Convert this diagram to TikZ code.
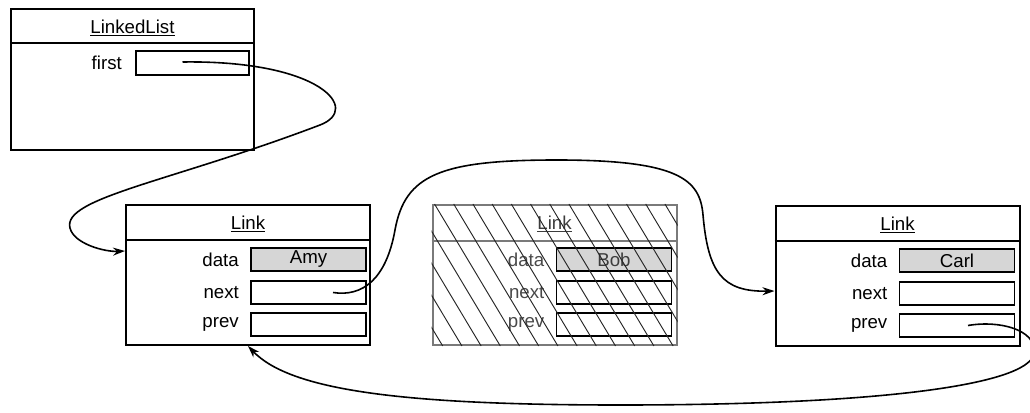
\documentclass[tikz,border=0pt]{standalone}
\usepackage{fontspec}
\setmainfont{Liberation Sans}
\usetikzlibrary{arrows.meta,calc}
\definecolor{fieldgray}{HTML}{D6D6D6}
\definecolor{ghost}{HTML}{7A7A7A}
\begin{document}
\begin{tikzpicture}[x=0.75pt,y=-0.75pt,
  every node/.style={font=\fontsize{14}{16}\selectfont},
  objbox/.style={draw, line width=1.5pt, minimum width=183pt, minimum height=105pt, inner sep=0pt},
  fieldbox/.style={draw, line width=1.4pt, minimum width=86.25pt, minimum height=17.25pt, inner sep=0pt},
  datafield/.style={fieldbox, fill=fieldgray},
  lbl/.style={anchor=east, inner sep=0pt},
  ttl/.style={inner sep=0pt},
  sepline/.style={line width=1.5pt},
  ptr/.style={line width=1.2pt, -{Stealth[length=9pt,width=6pt]}},
]
\clip (0,0) rectangle (1030,413);
\fill[white] (0,0) rectangle (1030,413);

% LinkedList object
\node[objbox, minimum width=182.25pt, minimum height=105.75pt] (ll) at (132.5,79.5) {};
\draw[sepline] ($(ll.north west)+(0,35)$) -- ($(ll.north east)+(0,35)$);
\node[ttl] (lltitle) at (132.5,28) {\underline{LinkedList}};
\node[fieldbox, minimum width=84.75pt, minimum height=18pt] (first) at (192.5,63) {};
\node[lbl] (firstlbl) at ($(first.west)+(-13,0)$) {first};

% Link Amy
\node[objbox] (amy) at (248,275) {};
\draw[sepline] ($(amy.north west)+(0,36)$) -- ($(amy.north east)+(0,36)$);
\node[ttl] (amytitle) at (248,224) {\underline{Link}};
\node[datafield] (amyData) at (308.5,259.5) {Amy};
\node[fieldbox] (amyNext) at (308.5,292.5) {};
\node[fieldbox] (amyPrev) at (308.5,324.5) {};
\node[lbl] (amyDataL) at ($(amyData.west)+(-11,0)$) {data};
\node[lbl] (amyNextL) at ($(amyNext.west)+(-11,0)$) {next};
\node[lbl] (amyPrevL) at ($(amyPrev.west)+(-11,0)$) {prev};

% Link Bob (hatched)
\node[objbox, draw=ghost, fill=white] (bob) at (554.5,275) {};
\draw[sepline, ghost] ($(bob.north west)+(0,37)$) -- ($(bob.north east)+(0,37)$);
\node[ttl, text=ghost!50!black] (bobtitle) at (554.5,224) {\underline{Link}};
\node[datafield] (bobData) at (614,259.5) {\textcolor{ghost!50!black}{Bob}};
\node[fieldbox] (bobNext) at (614,292.5) {};
\node[fieldbox] (bobPrev) at (614,324.5) {};
\node[lbl, text=ghost!60!black] (bobDataL) at ($(bobData.west)+(-11,0)$) {data};
\node[lbl, text=ghost!60!black] (bobNextL) at ($(bobNext.west)+(-11,0)$) {next};
\node[lbl, text=ghost!60!black] (bobPrevL) at ($(bobPrev.west)+(-11,0)$) {prev};
\begin{scope}
  \clip (bob.north west) rectangle (bob.south east);
  \foreach \i in {-6,...,14}
    \draw[line width=0.7pt, black!85] ($(bob.north west)+(3+\i*19.2,0)$) -- ++(85,142);
\end{scope}

% Link Carl
\node[objbox] (carl) at (897.5,276) {};
\draw[sepline] ($(carl.north west)+(0,36)$) -- ($(carl.north east)+(0,36)$);
\node[ttl] (carltitle) at (897.5,225) {\underline{Link}};
\node[datafield] (carlData) at (957,260.5) {Carl};
\node[fieldbox] (carlNext) at (957,293.5) {};
\node[fieldbox] (carlPrev) at (957,325.5) {};
\node[lbl] (carlDataL) at ($(carlData.west)+(-11,0)$) {data};
\node[lbl] (carlNextL) at ($(carlNext.west)+(-11,0)$) {next};
\node[lbl] (carlPrevL) at ($(carlPrev.west)+(-11,0)$) {prev};

% pointers
\draw[ptr] ($(first.center)+(-10,-1)$)
  .. controls (320,60) and (362,109) .. (320,125)
  .. controls (170,182) and (62,198) .. (70,228)
  .. controls (74,244) and (105,252) .. ($(amy.north west)+(0,47)$);

\draw[ptr] ($(amyNext.center)+(24.5,0)$)
  .. controls (362,297) and (386,280) .. (395,230)
  .. controls (405,175) and (440,160) .. (557,160)
  .. controls (680,160) and (700,180) .. (703,215)
  .. controls (708,272) and (722,292) .. ($(carl.north west)+(0,86)$);

\draw[ptr] ($(carlPrev.center)+(11,0)$)
  .. controls (1000,320) and (1036,330) .. (1034,352)
  .. controls (1034,382) and (900,405) .. (620,405)
  .. controls (400,405) and (290,390) .. (amy.south);
\end{tikzpicture}
\end{document}
